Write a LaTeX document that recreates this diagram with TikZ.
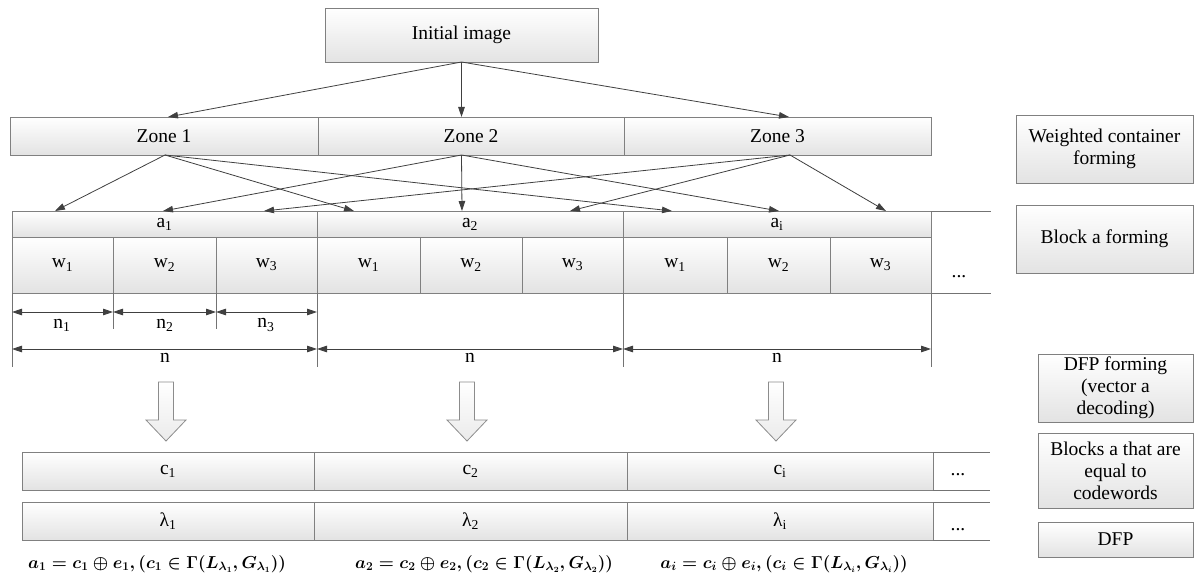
\documentclass[tikz,border=0pt]{standalone}
\usepackage{fontspec}
\setmainfont{Liberation Serif}
\usetikzlibrary{arrows.meta,shadows}
\begin{document}
\begin{tikzpicture}[x=1pt,y=-1pt,
 box/.style={draw=black!50, line width=0.8pt, top color=white, bottom color=black!11,
   inner sep=0pt, outer sep=0pt, font=\fontsize{19.5}{22}\selectfont, align=center,
   drop shadow={opacity=0.12,shadow xshift=1.2pt,shadow yshift=-1.2pt}},
 con/.style={draw=black!75, line width=0.8pt, -{Triangle[length=10pt,width=6.5pt]}},
 dim/.style={draw=black!75, line width=0.8pt, {Triangle[length=10pt,width=6.5pt]}-{Triangle[length=10pt,width=6.5pt]}},
 ext/.style={draw=black!55, line width=0.8pt},
 lbl/.style={font=\fontsize{19.5}{22}\selectfont, inner sep=0pt},
 frm/.style={font=\fontsize{16.5}{19}\selectfont\boldmath, inner sep=0pt},
 bigarrow/.style={draw=black!45, line width=0.8pt, top color=white, bottom color=black!8},
]
\useasboundingbox (0,0) rectangle (1195,578);

% top
\node[box, minimum width=273pt, minimum height=54pt] (init) at (461.5,35) {Initial image};
\node[box, minimum width=308pt, minimum height=38pt] (z1) at (164,136) {Zone 1};
\node[box, minimum width=306pt, minimum height=38pt] (z2) at (471,136) {Zone 2};
\node[box, minimum width=307pt, minimum height=38pt] (z3) at (777.5,136) {Zone 3};

% a row
\node[box, minimum width=305pt, minimum height=26pt] (a1) at (164.5,224) {a\textsubscript{1}};
\node[box, minimum width=306pt, minimum height=26pt] (a2) at (470,224) {a\textsubscript{2}};
\node[box, minimum width=308pt, minimum height=26pt] (ai) at (777,224) {a\textsubscript{i}};

% w row
\node[box, minimum width=101pt, minimum height=56pt] (w11) at (62.5,265) {w\textsubscript{1}};
\node[box, minimum width=103pt, minimum height=56pt] (w12) at (164.5,265) {w\textsubscript{2}};
\node[box, minimum width=101pt, minimum height=56pt] (w13) at (266.5,265) {w\textsubscript{3}};
\node[box, minimum width=103pt, minimum height=56pt] (w21) at (368.5,265) {w\textsubscript{1}};
\node[box, minimum width=102pt, minimum height=56pt] (w22) at (471,265) {w\textsubscript{2}};
\node[box, minimum width=101pt, minimum height=56pt] (w23) at (572.5,265) {w\textsubscript{3}};
\node[box, minimum width=104pt, minimum height=56pt] (w31) at (675,265) {w\textsubscript{1}};
\node[box, minimum width=103pt, minimum height=56pt] (w32) at (778.5,265) {w\textsubscript{2}};
\node[box, minimum width=101pt, minimum height=56pt] (w33) at (880.5,265) {w\textsubscript{3}};
\node[lbl] (dw) at (959,277) {...};
\draw[ext] (ai.north east) -- ++(60,0);
\draw[ext] (w33.south east) -- ++(60,0);

% arrows initial -> zones
\draw[con] (init.south) -- ([xshift=4pt]z1.north);
\draw[con] (init.south) -- (init.south |- z2.north);
\draw[con] (init.south) -- ([xshift=11.5pt]z3.north);

% zones -> blocks
\coordinate (s1) at ([xshift=1pt]z1.south);
\coordinate (s2) at (init.south |- z2.south);
\coordinate (s3) at ([xshift=12.5pt]z3.south);
\coordinate (t11) at (55,211);  \coordinate (t12) at (354,211); \coordinate (t13) at (672,211);
\coordinate (t21) at (163,211); \coordinate (t22) at (462,211); \coordinate (t23) at (779,211);
\coordinate (t31) at (264,211); \coordinate (t32) at (570,211); \coordinate (t33) at (886,211);
\foreach \z in {1,2,3}{
  \foreach \b in {1,2,3}{
    \draw[con] (s\z) -- (t\z\b);
  }
}

% extension lines
\draw[ext] (w11.south west) -- ++(0,74);
\draw[ext] (w12.south west) -- ++(0,36);
\draw[ext] (w13.south west) -- ++(0,36);
\draw[ext] (w13.south east) -- ++(0,74);
\draw[ext] (w23.south east) -- ++(0,74);
\draw[ext] (w33.south east) -- ++(0,74);

% dimension arrows
\draw[dim] ([yshift=-19pt]w11.south west) -- ([yshift=-19pt]w11.south east);
\draw[dim] ([yshift=-19pt]w12.south west) -- ([yshift=-19pt]w12.south east);
\draw[dim] ([yshift=-19pt]w13.south west) -- ([yshift=-19pt]w13.south east);
\draw[dim] ([yshift=-56pt]w11.south west) -- ([yshift=-56pt]w13.south east);
\draw[dim] ([yshift=-56pt]w21.south west) -- ([yshift=-56pt]w23.south east);
\draw[dim] ([yshift=-56pt]w31.south west) -- ([yshift=-56pt]w33.south east);
\node[lbl] (n1) at (62,325) {n\textsubscript{1}};
\node[lbl] (n2) at (165,325) {n\textsubscript{2}};
\node[lbl] (n3) at (266,325) {n\textsubscript{3}};
\node[lbl] (na) at (165,358) {n};
\node[lbl] (nb) at (470,358) {n};
\node[lbl] (nc) at (777,358) {n};

% hollow arrows
\foreach \cx in {166,467,776}{
  \path[bigarrow] ({\cx-7.5},382) -- ({\cx+7.5},382) -- ({\cx+7.5},420) -- ({\cx+20},420)
     -- (\cx,441) -- ({\cx-20},420) -- ({\cx-7.5},420) -- cycle;
}

% c row
\node[box, minimum width=292pt, minimum height=38pt] (c1) at (168,471) {c\textsubscript{1}};
\node[box, minimum width=313pt, minimum height=38pt] (c2) at (470.5,471) {c\textsubscript{2}};
\node[box, minimum width=306pt, minimum height=38pt] (ci) at (780,471) {c\textsubscript{i}};
\draw[ext] (ci.north east) -- ++(57,0);
\draw[ext] (ci.south east) -- ++(57,0);
\node[lbl] (dc) at (958,475) {...};

% lambda row
\node[box, minimum width=292pt, minimum height=38pt] (l1) at (168,521) {λ\textsubscript{1}};
\node[box, minimum width=313pt, minimum height=38pt] (l2) at (470.5,521) {λ\textsubscript{2}};
\node[box, minimum width=306pt, minimum height=38pt] (li) at (780,521) {λ\textsubscript{i}};
\draw[ext] (li.north east) -- ++(57,0);
\draw[ext] (li.south east) -- ++(57,0);
\node[lbl] (dl) at (958,530) {...};

% formulas
\node[frm] (f1) at (157,564) {$a_1 = c_1 \oplus e_1, (c_1 \in \Gamma(L_{\lambda_1}, G_{\lambda_1}))$};
\node[frm] (f2) at (484,564) {$a_2 = c_2 \oplus e_2, (c_2 \in \Gamma(L_{\lambda_2}, G_{\lambda_2}))$};
\node[frm] (f3) at (784,564) {$a_i = c_i \oplus e_i, (c_i \in \Gamma(L_{\lambda_i}, G_{\lambda_i}))$};

% right-side labels
\node[box, minimum width=177pt, minimum height=68pt] (wc) at (1104.5,149) {Weighted container\\forming};
\node[box, minimum width=177pt, minimum height=68pt] (baf) at (1104.5,239) {Block a forming};
\node[box, minimum width=155pt, minimum height=68pt] (dfpf) at (1115.5,388) {DFP forming\\(vector a\\decoding)};
\node[box, minimum width=155pt, minimum height=75pt] (bl) at (1115.5,470.5) {Blocks a that are\\equal to\\codewords};
\node[box, minimum width=155pt, minimum height=35pt] (dfp) at (1115.5,539.5) {DFP};
\end{tikzpicture}
\end{document}
